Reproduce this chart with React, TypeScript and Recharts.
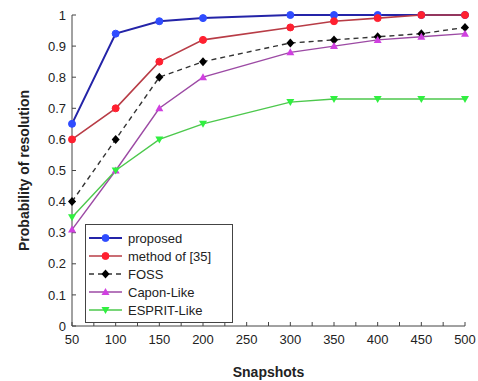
import { LineChart, Line, XAxis, YAxis } from 'recharts';

const snapshots = [50, 100, 150, 200, 300, 350, 400, 450, 500];
const proposed = [0.65, 0.94, 0.98, 0.99, 1.0, 1.0, 1.0, 1.0, 1.0];
const method35 = [0.6, 0.7, 0.85, 0.92, 0.96, 0.98, 0.99, 1.0, 1.0];
const foss = [0.4, 0.6, 0.8, 0.85, 0.91, 0.92, 0.93, 0.94, 0.96];
const capon = [0.31, 0.5, 0.7, 0.8, 0.88, 0.9, 0.92, 0.93, 0.94];
const esprit = [0.35, 0.5, 0.6, 0.65, 0.72, 0.73, 0.73, 0.73, 0.73];

const xTicks = [50, 75, 100, 125, 150, 175, 200, 225, 250, 275, 300, 325, 350, 375, 400, 425, 450, 475, 500];
const yTicks = [0, 0.1, 0.2, 0.3, 0.4, 0.5, 0.6, 0.7, 0.8, 0.9, 1];

const data = snapshots.map((s, i) => ({
  s,
  proposed: proposed[i],
  method35: method35[i],
  foss: foss[i],
  capon: capon[i],
  esprit: esprit[i],
}));

type Shape = 'circle' | 'diamond' | 'up' | 'down';

const series = [
  { key: 'proposed', name: 'proposed', stroke: '#2424a8', fill: '#2f4cff', width: 2, dash: undefined, shape: 'circle' as Shape },
  { key: 'method35', name: 'method of [35]', stroke: '#b83c46', fill: '#ff2030', width: 1.6, dash: undefined, shape: 'circle' as Shape },
  { key: 'foss', name: 'FOSS', stroke: '#333333', fill: '#000000', width: 1.4, dash: '5 4', shape: 'diamond' as Shape },
  { key: 'capon', name: 'Capon-Like', stroke: '#9c4aa4', fill: '#d040e0', width: 1.4, dash: undefined, shape: 'up' as Shape },
  { key: 'esprit', name: 'ESPRIT-Like', stroke: '#4cc84c', fill: '#30f040', width: 1.4, dash: undefined, shape: 'down' as Shape },
];

function marker(shape: Shape, cx: number, cy: number, fill: string, key?: string) {
  const r = 3.5;
  if (shape === 'circle') return <circle key={key} cx={cx} cy={cy} r={r} fill={fill} stroke={fill} />;
  if (shape === 'diamond')
    return <polygon key={key} points={`${cx},${cy - 4.5} ${cx + 4},${cy} ${cx},${cy + 4.5} ${cx - 4},${cy}`} fill={fill} />;
  if (shape === 'up')
    return <polygon key={key} points={`${cx},${cy - 4} ${cx + 4},${cy + 3} ${cx - 4},${cy + 3}`} fill={fill} />;
  return <polygon key={key} points={`${cx - 4},${cy - 3} ${cx + 4},${cy - 3} ${cx},${cy + 4}`} fill={fill} />;
}

const XTick = (props: any) => {
  const { x, y, payload } = props;
  if (payload.value % 50 !== 0) return <g />;
  return (
    <text x={x} y={y + 20} textAnchor="middle" fontSize={13} fill="#222">
      {payload.value}
    </text>
  );
};

const LegendBox = () => (
  <div
    style={{
      position: 'absolute',
      left: 85,
      top: 224,
      border: '1px solid #444',
      background: '#fff',
      width: 146,
      padding: '4px 0 3px',
      fontFamily: 'Liberation Sans, Arial, sans-serif',
      fontSize: 13,
      color: '#222',
    }}
  >
    {series.map((s) => (
      <div key={s.key} style={{ display: 'flex', alignItems: 'center', height: 18 }}>
        <svg width={40} height={18}>
          <line x1={3} y1={9} x2={36} y2={9} stroke={s.stroke} strokeWidth={s.width} strokeDasharray={s.dash} />
          {marker(s.shape, 19.5, 9, s.fill)}
        </svg>
        <span style={{ marginLeft: 2 }}>{s.name}</span>
      </div>
    ))}
  </div>
);

export default function App() {
  return (
    <div style={{ position: 'absolute', left: 0, top: 0, width: 478, height: 381, background: '#fff' }}>
      <LineChart
        width={478}
        height={381}
        data={data}
        margin={{ top: 15, right: 13, left: 20, bottom: 30 }}
        style={{ fontFamily: 'Liberation Sans, Arial, sans-serif' }}
      >
        <XAxis
          xAxisId="b"
          dataKey="s"
          type="number"
          domain={[50, 500]}
          ticks={xTicks}
          interval={0}
          tick={<XTick />}
          tickSize={-4}
          stroke="#444"
          height={25}
          label={{ value: 'Snapshots', position: 'insideBottom', offset: -26, fontSize: 14, fontWeight: 'bold', fill: '#222' }}
        />
        <XAxis xAxisId="t" dataKey="s" type="number" domain={[50, 500]} orientation="top" ticks={xTicks} tick={false} tickSize={-4} stroke="#444" height={0} />
        <YAxis
          yAxisId="l"
          type="number"
          domain={[0, 1]}
          ticks={yTicks}
          interval={0}
          tickSize={-4}
          tickMargin={10}
          tick={{ fontSize: 13, fill: '#222' }}
          stroke="#444"
          width={52}
          label={{ value: 'Probability of resolution', angle: -90, position: 'insideLeft', offset: 4, fontSize: 14, fontWeight: 'bold', fill: '#222', style: { textAnchor: 'middle' } }}
        />
        <YAxis yAxisId="r" type="number" domain={[0, 1]} orientation="right" ticks={yTicks} tick={false} tickSize={-4} stroke="#444" width={0} />
        {series.map((s) => (
          <Line
            key={s.key}
            xAxisId="b"
            yAxisId="l"
            dataKey={s.key}
            name={s.name}
            type="linear"
            stroke={s.stroke}
            strokeWidth={s.width}
            strokeDasharray={s.dash}
            isAnimationActive={false}
            dot={(p: any) => marker(s.shape, p.cx, p.cy, s.fill, `${s.key}-${p.index}`)}
            activeDot={false}
          />
        ))}
      </LineChart>
      <LegendBox />
    </div>
  );
}
